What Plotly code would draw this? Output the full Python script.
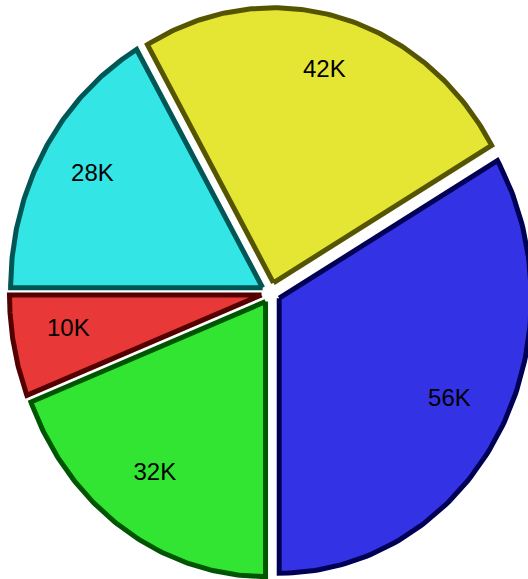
import numpy as np
import plotly.graph_objects as go

labels = ['A', 'B', 'C', 'D', 'E']
values = [28000, 42000, 56000, 32000, 10000]
text_labels = ['28K', '42K', '56K', '32K', '10K']
fill_colors = ['#33e5e5', '#e5e533', '#3333e5', '#33e533', '#e83838']
edge_colors = ['#005555', '#555500', '#000055', '#005500', '#550000']

# pie geometry (unit radius, stretched by the axis ranges below)
start_angle = -90   # degrees, clockwise from 12 o'clock
pull = 0.038
text_radius = 0.78
text_lift = 0.018

fig = go.Figure()

total = float(sum(values))
angle = start_angle
text_x, text_y = [], []
for name, value, fill, edge in zip(labels, values, fill_colors, edge_colors):
    sweep = value / total * 360
    theta = np.radians(np.linspace(angle, angle + sweep, 120))
    mid = np.radians(angle + sweep / 2)
    dx, dy = pull * np.sin(mid), pull * np.cos(mid)
    xs = np.concatenate([[0], np.sin(theta), [0]]) + dx
    ys = np.concatenate([[0], np.cos(theta), [0]]) + dy
    fig.add_trace(go.Scatter(x=xs, y=ys, mode='lines', fill='toself',
                             fillcolor=fill, name=name,
                             line=dict(color=edge, width=5),
                             hoverinfo='skip'))
    text_x.append(dx + text_radius * np.sin(mid))
    text_y.append(dy + text_radius * np.cos(mid) + text_lift)
    angle += sweep

fig.add_trace(go.Scatter(x=text_x, y=text_y, mode='text', text=text_labels,
                         textfont=dict(family='Arial', size=24, color='black'),
                         hoverinfo='skip'))

fig.update_layout(width=528, height=579, showlegend=False,
                  margin=dict(l=0, r=0, t=0, b=0),
                  paper_bgcolor='white', plot_bgcolor='white',
                  xaxis=dict(range=[-1.075, 1.02], visible=False, fixedrange=True),
                  yaxis=dict(range=[-1.04, 1.065], visible=False, fixedrange=True))

fig.write_html('out.html', config={'displayModeBar': False},
               post_script="document.body.style.margin = '0';")
